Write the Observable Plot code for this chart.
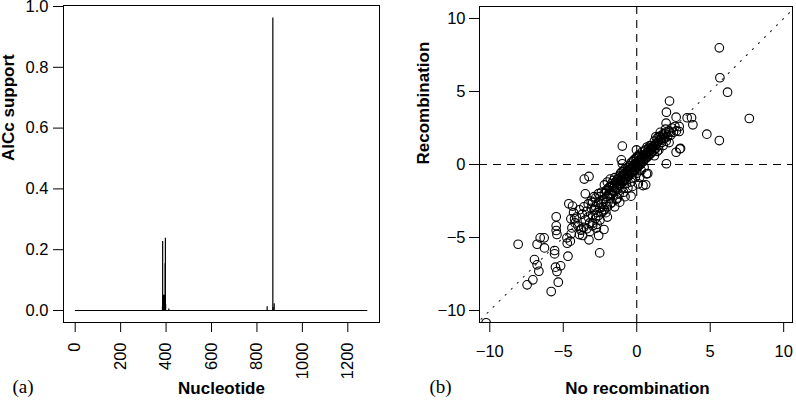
<!DOCTYPE html>
<html><head><meta charset="utf-8">
<script src="https://cdn.jsdelivr.net/npm/d3@7"></script>
<script src="https://cdn.jsdelivr.net/npm/@observablehq/plot@0.6"></script>
<style>
body{margin:0;background:#fff;}
#wrap{position:relative;width:796px;height:403px;overflow:hidden;background:#fff;}
#wrap svg{position:absolute;top:0;}
</style></head><body><div id="wrap"></div>
<script>
// ---- Panel (a): AICc support along the alignment ----
const firstNucleotide = 1;
const lastNucleotide = 1288;
const spikePositions = [384,385,386,387,388,389,390,391,392,393,394,395,396,397,398,412,845,870,871,876];
const spikeSupport   = [0.012,0.227,0.046,0.048,0.05,0.035,0.045,0.042,0.05,0.048,0.044,0.05,0.154,0.238,0.02,0.005,0.012,0.962,0.01,0.022];
const supportTicks = [0, 0.2, 0.4, 0.6, 0.8, 1.0];
const nucleotideTicks = [0, 200, 400, 600, 800, 1000, 1200];

// ---- Panel (b): No recombination vs Recombination ----
const noRecombination = [
5.62,5.66,6.18,7.66,4.77,5.62,2.23,2.02,2.68,3.43,3.73,3.82,2.89,2.89,2.00,1.96,2.98,2.68,2.02,-0.98,
-0.02,-1.05,-0.98,0.11,0.75,0.61,0.11,-0.39,-3.25,-3.57,-3.50,-4.37,-4.62,-4.23,-4.48,-5.48,-5.48,-5.48,-5.43,-6.30,
-6.57,-6.28,-6.78,-8.07,-6.96,-6.78,-6.66,-7.07,-7.46,-5.82,-5.34,-5.53,-5.43,-5.18,-5.59,-5.59,-4.68,-4.75,-4.52,-4.73,
-4.46,-4.41,-3.77,-3.68,-3.25,-2.75,-2.59,-2.23,-2.52,-10.25,0.43,0.66,0.2,-1.16,2.93,1.52,1.8,2.25,1.2,1.4,
-3.0,-2.9,-2.8,-2.8,-2.7,-2.6,-2.6,-2.5,-2.5,-2.4,-2.4,-2.3,-2.3,-2.2,-2.2,-2.1,-2.1,-2.0,-2.0,-2.0,
-1.9,-1.9,-1.8,-1.8,-1.8,-1.7,-1.7,-1.6,-1.6,-1.6,-1.5,-1.5,-1.5,-1.4,-1.4,-1.4,-1.3,-1.3,-1.3,-1.2,
-1.2,-1.2,-1.1,-1.1,-1.1,-1.0,-1.0,-1.0,-1.0,-0.9,-0.9,-0.9,-0.8,-0.8,-0.8,-0.7,-0.7,-0.7,-0.6,-0.6,
-0.6,-0.5,-0.5,-0.5,-0.4,-0.4,-0.4,-0.3,-0.3,-0.3,-0.2,-0.2,-0.2,-0.1,-0.1,-0.1,0.0,0.0,0.0,0.1,
0.1,0.1,0.2,0.2,0.2,0.3,0.3,0.4,0.4,0.4,0.5,0.5,0.6,0.6,0.6,0.7,0.7,0.8,0.8,0.8,
0.9,0.9,1.0,1.0,1.0,1.1,1.1,1.2,1.2,1.2,1.3,1.3,1.4,1.4,1.5,1.5,1.6,1.6,1.7,1.7,
1.8,1.8,1.9,1.9,2.0,2.1,2.2,2.3,2.4,2.5,2.6,2.7,
-3.9,-3.7,-3.6,-3.5,-3.4,-3.3,-3.3,-3.2,-3.1,-3.1,-3.0,-3.0,-2.9,-2.8,-2.7,-2.6,-2.5,-2.4,-2.3,-2.2,
-2.1,-2.0,-1.8,-1.7,-1.5,-1.3,-1.2,-0.9,-0.8,-0.6,-0.4,-0.3,-0.1,0.0,0.3,0.5,-4.0,-3.8,-4.2,-3.9,
-3.6,-4.1,-3.4,-4.3,-3.2,-3.0,0.7,0.9,1.3,1.6,1.5,1.8,2.2,2.0,
-2.05,-1.85,-1.65,-1.45,-1.25,-1.05,-0.85,-0.65,-0.45,-0.25,-0.05,0.15,0.35,0.55,0.75,0.95,1.15,1.35,-1.75,-1.55,
-1.35,-1.15,-0.95,-0.75,-0.55,-0.35,-0.15,0.05,0.25,0.45
];
const recombination = [
7.99,5.94,4.95,3.15,2.08,1.64,4.34,3.58,3.24,3.20,3.20,2.72,2.60,2.26,2.83,2.42,1.10,0.84,0.05,1.26,
1.00,0.32,0.05,0.55,-0.62,-1.39,-1.32,-2.17,-0.82,-1.00,-2.01,-2.85,-2.69,-3.72,-3.72,-3.58,-4.20,-4.52,-4.79,-5.02,
-5.02,-5.71,-5.46,-5.46,-6.51,-6.87,-7.31,-7.90,-8.24,-8.70,-8.06,-7.03,-7.33,-6.94,-5.89,-6.12,-6.28,-5.02,-5.25,-5.39,
-4.75,-4.34,-4.41,-4.86,-5.16,-4.36,-4.86,-4.45,-6.05,-10.84,-1.44,-0.64,-0.87,-2.58,1.07,1.92,2.1,2.21,0.6,0.9,
-2.6,-3.1,-2.3,-2.9,-3.3,-2.0,-2.6,-3.0,-2.2,-2.7,-1.9,-2.4,-3.2,-2.0,-1.4,-2.6,-1.8,-2.2,-1.2,-2.9,
-1.6,-2.0,-1.5,-2.3,-1.0,-1.8,-1.3,-1.6,-2.1,-1.1,-1.4,-1.8,-0.9,-1.2,-1.6,-2.4,-1.0,-1.3,-1.7,-1.1,
-0.8,-1.4,-1.0,-1.3,-0.6,-0.9,-1.2,-0.5,-1.6,-0.8,-1.1,-0.4,-0.7,-1.0,-0.3,-0.6,-0.9,-1.3,-0.5,-0.2,
-0.8,-0.4,-0.7,-0.1,-0.3,-0.6,0.1,-0.2,-0.5,0.2,-0.1,-0.4,0.3,0.0,-0.3,0.4,0.1,-0.2,0.5,0.2,
-0.1,0.6,0.3,0.0,0.7,0.4,0.1,0.5,0.2,0.9,0.6,0.3,0.7,0.4,1.0,0.8,0.5,0.9,0.6,1.1,
1.0,0.7,1.1,0.8,1.3,1.2,0.9,1.3,1.0,1.6,1.4,1.1,1.5,1.8,1.6,1.3,1.7,1.9,1.8,1.5,
2.0,1.7,2.1,1.8,2.2,1.9,2.3,2.0,2.5,2.2,2.6,2.3,
-3.1,-3.4,-2.9,-3.8,-3.2,-2.7,-3.6,-4.0,-3.0,-2.5,-3.5,-4.2,-2.2,-3.7,-4.1,-3.5,-3.8,-3.3,-2.9,-3.1,
-3.3,-3.6,-2.7,-2.6,-2.9,-2.3,-2.0,-1.9,-2.2,-1.6,-1.2,-1.5,-0.9,-0.6,-0.4,-0.2,-4.2,-4.5,-4.0,-4.8,
-4.3,-3.6,-4.4,-3.3,-4.6,-4.0,1.2,1.3,1.9,2.2,1.0,1.3,1.5,1.6,
-1.75,-1.55,-1.45,-1.2,-1.0,-0.85,-0.65,-0.45,-0.3,-0.1,0.1,0.3,0.45,0.65,0.85,1.05,1.25,1.45,-2.0,-1.85,
-1.6,-1.4,-1.2,-1.0,-0.8,-0.55,-0.4,-0.2,0.0,0.2
];
const effectTicks = [-10, -5, 0, 5, 10];
const identityLine = [-11, 11];
const referenceZero = [0];

const spikes = spikePositions.map((p, i) => ({pos: p, val: spikeSupport[i]}));
const points = noRecombination.map((x, i) => ({x, y: recombination[i]}));

const sans = "'Liberation Sans', Arial, Helvetica, sans-serif";
const serif = "'Liberation Serif', 'Times New Roman', serif";
const minus = d => d < 0 ? "\u2212" + Math.abs(d) : String(d);

const left = Plot.plot({
  width: 398, height: 403,
  marginLeft: 63, marginRight: 19, marginTop: 5, marginBottom: 81,
  style: {fontFamily: sans, fontSize: "16.5px", background: "white", color: "black"},
  x: {domain: [-51.5, 1339.5], label: null},
  y: {domain: [-0.0395, 1.0033], label: null},
  marks: [
    Plot.ruleY([0], {x1: firstNucleotide, x2: lastNucleotide, stroke: "black", strokeWidth: 1.2}),
    Plot.ruleX(spikes, {x: "pos", y1: 0, y2: "val", stroke: "black", strokeWidth: 1.2}),
    Plot.frame({stroke: "black", strokeWidth: 1}),
    Plot.axisY(supportTicks, {tickFormat: d3.format(".1f"), tickSize: 10, tickPadding: 5, label: null}),
    Plot.axisX(nucleotideTicks, {tickFormat: d3.format("d"), tickRotate: -90, tickSize: 10, tickPadding: 10, label: null}),
    Plot.text(["AICc support"], {frameAnchor: "left", dx: -55, dy: -3, rotate: -90, fontWeight: "bold", fontSize: 17, fontFamily: sans}),
    Plot.text(["Nucleotide"], {frameAnchor: "bottom", dy: 71, fontWeight: "bold", fontSize: 17, fontFamily: sans}),
    Plot.text(["(a)"], {frameAnchor: "bottom-left", dx: -51, dy: 70, fontSize: 19, fontFamily: serif})
  ]
});

const right = Plot.plot({
  width: 398, height: 403,
  marginLeft: 81, marginRight: 4, marginTop: 6, marginBottom: 81,
  style: {fontFamily: sans, fontSize: "16.5px", background: "white", color: "black"},
  x: {domain: [-10.7, 10.6], label: null},
  y: {domain: [-10.82, 10.82], label: null},
  marks: [
    Plot.line(identityLine, {x: d => d, y: d => d, stroke: "#222", strokeWidth: 1.1, strokeDasharray: "1.2,7.3", clip: true}),
    Plot.ruleX(referenceZero, {stroke: "black", strokeWidth: 1.1, strokeDasharray: "8,6"}),
    Plot.ruleY(referenceZero, {stroke: "black", strokeWidth: 1.1, strokeDasharray: "8,6"}),
    Plot.dot(points, {x: "x", y: "y", r: 4.3, stroke: "black", strokeWidth: 1.1, fill: "none", clip: true}),
    Plot.frame({stroke: "black", strokeWidth: 1}),
    Plot.axisY(effectTicks, {tickFormat: minus, tickSize: 10, tickPadding: 4, label: null}),
    Plot.axisX(effectTicks, {tickFormat: minus, tickSize: 10, tickPadding: 13, label: null}),
    Plot.text(["Recombination"], {frameAnchor: "left", dx: -56, rotate: -90, fontWeight: "bold", fontSize: 17, fontFamily: sans}),
    Plot.text(["No recombination"], {frameAnchor: "bottom", dx: 1.5, dy: 71, fontWeight: "bold", fontSize: 17, fontFamily: sans}),
    Plot.text(["(b)"], {frameAnchor: "bottom-left", dx: -50, dy: 70, fontSize: 19, fontFamily: serif})
  ]
});

left.style.left = "0px";
right.style.left = "398px";
document.getElementById("wrap").append(left, right);
</script></body></html>
